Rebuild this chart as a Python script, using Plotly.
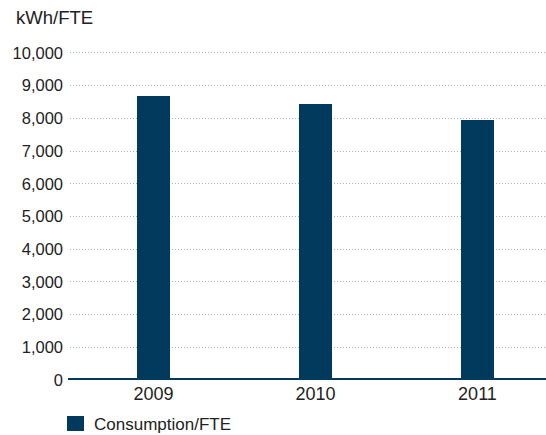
import plotly.graph_objects as go

years = ["2009", "2010", "2011"]
consumption = [8690, 8440, 7950]
y_ticks = [0, 1000, 2000, 3000, 4000, 5000, 6000, 7000, 8000, 9000, 10000]
y_tick_labels = [f"{v:,}" for v in y_ticks]
series_name = "Consumption/FTE"
unit_label = "kWh/FTE"

navy = "#023A5E"
text_color = "#222222"
font_family = "Liberation Sans, Arial, sans-serif"

FIG_W, FIG_H = 546, 435
L, T, W, H = 70, 51, 476, 329
y_max = 10060


def py(fig_y):
    """figure pixel row -> paper y"""
    return (T + H - fig_y) / H


def px(fig_x):
    """figure pixel column -> paper x"""
    return (fig_x - L) / W


fig = go.Figure()
fig.add_trace(go.Bar(
    x=[0, 1, 2], y=consumption, name=series_name,
    marker=dict(color=navy, line=dict(width=0)), width=0.204,
    showlegend=False,
))

fig.update_layout(
    width=FIG_W, height=FIG_H,
    margin=dict(l=L, r=FIG_W - L - W, t=T, b=FIG_H - T - H, autoexpand=False),
    plot_bgcolor="white", paper_bgcolor="white",
    font=dict(family=font_family, size=17, color=text_color),
    showlegend=False,
    xaxis=dict(range=[-0.515, 2.423], tickvals=[0, 1, 2], ticktext=years,
               showgrid=False, zeroline=False, showline=False, ticks="",
               ticklabelstandoff=1, tickfont=dict(size=18, color=text_color)),
    yaxis=dict(range=[0, y_max], tickvals=y_ticks, ticktext=y_tick_labels,
               showgrid=True, gridcolor="#b0b0b0", griddash="1px,2px", gridwidth=1,
               zeroline=False, showline=False, ticks="", ticklabelstandoff=6,
               tickfont=dict(size=16.5, color=text_color)),
    bargap=0,
)

# thick baseline
fig.add_shape(type="line", xref="paper", yref="y", x0=px(L - 2), x1=1, y0=0, y1=0,
              line=dict(color=navy, width=4), layer="above")

# unit label
fig.add_annotation(text=unit_label, xref="paper", yref="paper",
                   x=px(14), y=py(18), xanchor="left", yanchor="middle",
                   showarrow=False, font=dict(size=18.5, color=text_color))

# legend (drawn manually for exact placement)
fig.add_shape(type="rect", xref="paper", yref="paper",
              x0=px(67), x1=px(84), y0=py(416), y1=py(431),
              fillcolor=navy, line=dict(width=0))
fig.add_annotation(text=series_name, xref="paper", yref="paper",
                   x=px(92), y=py(424.5), xanchor="left", yanchor="middle",
                   showarrow=False, font=dict(size=17, color=text_color))

fig.write_html("out.html",
               config={"displayModeBar": False},
               post_script="document.body.style.margin='0';document.body.style.overflow='hidden';")
